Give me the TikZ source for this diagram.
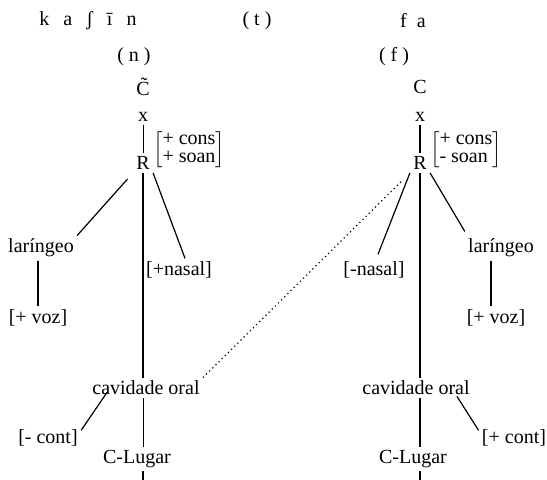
\documentclass[tikz,border=0pt]{standalone}
\usepackage{fontspec}
\setmainfont{Liberation Serif}
\tikzset{
  seg/.style={line width=0.6pt},
  faint/.style={line width=0.35pt},
  assoc/.style={line width=0.6pt,dash pattern=on 0.6pt off 1.6pt},
  feat/.style={inner sep=1.5pt},
  matrixbr/.style={inner sep=0pt,font=\fontsize{10}{9}\selectfont}
}
\newcommand{\lsp}{\hspace{7pt}}
\newcommand{\featbr}[2]{$\left[\begin{tabular}{@{}l@{}}#1\\#2\end{tabular}\right]$}

\begin{document}
\begin{tikzpicture}[x=0.5pt,y=-0.5pt]
    \useasboundingbox (0,0) rectangle (547,480);
    \node[feat] (wordL) at (88,21) {k\lsp a\lsp ʃ\lsp ī\lsp n};
    \node[feat] (tseg) at (257,21) {( t )};
    \node[feat] (wordR) at (413,21) {f\hspace{5pt}a};
    \node[feat] (segn) at (134,57) {( n )};
    \node[feat] (segf) at (394,57) {( f )};
    % nasal
    \node[feat] (CL) at (143,87) {\~{C}};
    \node[feat] (xL) at (143,117) {x};
    \node[feat] (RL) at (143,163) {R};
    \node[matrixbr] (brL) at (189,150) {\featbr{+ cons}{+ soan}};
    \node[feat] (larL) at (41,248) {laríngeo};
    \node[feat] (vozL) at (38,318) {[+ voz]};
    \node[feat] (nasL) at (179,270) {[+nasal]};
    \node[feat] (cavL) at (146,388) {cavidade oral};
    \node[feat] (contL) at (48,438) {[- cont]};
    \node[feat] (lugL) at (137,459) {C-Lugar};
    \coordinate (endL) at (143,480);
    % fricativa
    \node[feat] (CR) at (420,87) {C};
    \node[feat] (xR) at (420,117) {x};
    \node[feat] (RR) at (420,163) {R};
    \node[matrixbr] (brR) at (466,150) {\featbr{+ cons}{- soan}};
    \node[feat] (nasR) at (374,270) {[-nasal]};
    \node[feat] (larR) at (501,248) {laríngeo};
    \node[feat] (vozR) at (496,318) {[+ voz]};
    \node[feat] (cavR) at (416,388) {cavidade oral};
    \node[feat] (contR) at (514,438) {[+ cont]};
    \node[feat] (lugR) at (413,459) {C-Lugar};
    \coordinate (endR) at (420,480);

    \draw[faint] (xL) -- (RL);
    \draw[seg,shorten <=4pt] (RL.south west) -- (larL.north east);
    \draw[seg] (RL.south east) -- ([xshift=3pt]nasL.north);
    \draw[seg] (RL.south) -- (RL.south |- cavL.north);
    \draw[seg] (larL.south -| vozL) -- (vozL.north);
    \draw[seg] ([xshift=9pt,yshift=3pt]cavL.south west) -- ([yshift=-2pt]contL.north east);
    \draw[faint] (cavL.south -| RL) -- (lugL.north -| RL);
    \draw[seg] (lugL.south -| endL) -- (endL);

    \draw[seg] (xR) -- (RR);
    \draw[seg] (RR.south west) -- ([xshift=2pt,yshift=2pt]nasR.north);
    \draw[seg] (RR.south east) -- ([yshift=2pt]larR.north west);
    \draw[seg] (RR.south) -- (RR.south |- cavR.north);
    \draw[seg] ([xshift=-5pt]larR.south) -- ([xshift=-5pt]larR.south |- vozR.north);
    \draw[seg] ([xshift=-8pt,yshift=1pt]cavR.south east) -- ([yshift=-2pt]contR.north west);
    \draw[seg] (cavR.south -| RR) -- (lugR.north -| RR);
    \draw[seg] (lugR.south -| endR) -- (endR);

    \draw[assoc,shorten >=6pt] (cavL.north east) -- (RR.south west);
\end{tikzpicture}
\end{document}
